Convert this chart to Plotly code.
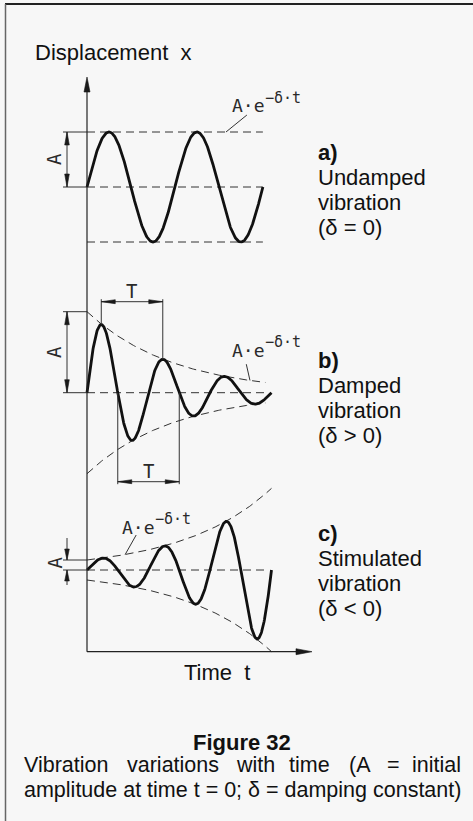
import numpy as np
import plotly.graph_objects as go

# ---------------- page geometry (pixels) ----------------
W, H = 473, 821
ORIGIN_PX = 87.0            # position of t = 0
PX_PER_T = 61.5             # pixels per time unit (one period of b and c)
PX_PER_X = 10.0             # pixels per displacement unit
BASELINE_PX = {"a": 187.0, "b": 392.7, "c": 570.0}
TIME_AXIS_PX = 651.7        # vertical position of the time axis
DISP_AXIS_TOP_PX = 77.0     # tip of the displacement arrow
TIME_AXIS_TIP_PX = 312.0    # tip of the time arrow

# ---------------- vibration parameters ----------------
# a) undamped
AMP_A = 5.5
PERIOD_A = 1.43
CYCLES_A = 2
# b) damped (delta > 0)
AMP_B = 8.1
DELTA_B = 0.713
# c) stimulated (delta < 0)
AMP_C = 1.0
DELTA_C = -0.70
PERIOD_BC = 1.0
T_END_BC = 3.0
T_ENV_B = 2.9
T_ENV_C = 3.0

INK = "#111111"
GUIDE = "#333333"
DASH = "8px,5px"
SANS = "Liberation Sans, Arial, Helvetica, sans-serif"
TECH = "DejaVu Sans Mono, Liberation Mono, monospace"
TECH_INK = "#2a2a2a"

omega = 2 * np.pi / PERIOD_BC

t_a = np.linspace(0, CYCLES_A * PERIOD_A, 400)
x_a = AMP_A * np.sin(2 * np.pi * t_a / PERIOD_A)

t_bc = np.linspace(0, T_END_BC, 500)
x_b = AMP_B * np.exp(-DELTA_B * t_bc) * np.sin(omega * t_bc)
x_c = AMP_C * np.exp(-DELTA_C * t_bc) * np.sin(omega * t_bc)

t_env_b = np.linspace(0, T_ENV_B, 200)
env_b = AMP_B * np.exp(-DELTA_B * t_env_b)
t_env_c = np.linspace(0, T_ENV_C, 200)
env_c = AMP_C * np.exp(-DELTA_C * t_env_c)

fig = go.Figure()


def line_trace(t, x, yaxis, dashed=False, width=2.8, color=INK):
    fig.add_trace(go.Scatter(
        x=t, y=x, yaxis=yaxis, mode="lines", hoverinfo="skip", showlegend=False,
        line=dict(color=GUIDE if dashed else color, width=1 if dashed else width,
                  dash=DASH if dashed else "solid"),
    ))


# a) undamped: guides at +A, 0, -A
t_guide_a = np.array([0, CYCLES_A * PERIOD_A])
for level in (AMP_A, 0, -AMP_A):
    line_trace(t_guide_a, [level, level], "y", dashed=True)
line_trace(t_a, x_a, "y")

# b) damped: envelope +/- A e^(-delta t) and zero line
line_trace([0, T_ENV_B], [0, 0], "y2", dashed=True)
line_trace(t_env_b, env_b, "y2", dashed=True)
line_trace(t_env_b, -env_b, "y2", dashed=True)
line_trace(t_bc, x_b, "y2")

# c) stimulated: growing envelope
line_trace([0, T_ENV_B], [0, 0], "y3", dashed=True)
line_trace(t_env_c, env_c, "y3", dashed=True)
line_trace(t_env_c, -env_c, "y3", dashed=True)
line_trace(t_bc, x_c, "y3")

shapes = []


def seg(x0, y0, x1, y1, yref, color=GUIDE, width=1.0, xref="x"):
    shapes.append(dict(type="line", xref=xref, yref=yref, x0=x0, y0=y0, x1=x1, y1=y1,
                       line=dict(color=color, width=width)))


def head(tip_x, tip_y, ux, uy, yref, length=11.0, half=2.3, xref="x",
         kx=PX_PER_T, ky=PX_PER_X, color="#1a1a1a"):
    """Filled arrowhead; (ux, uy) is the screen direction (x right, y up)."""
    bx = tip_x - ux * length / kx
    by = tip_y - uy * length / ky
    nx, ny = -uy, ux
    p1 = (bx + nx * half / kx, by + ny * half / ky)
    p2 = (bx - nx * half / kx, by - ny * half / ky)
    shapes.append(dict(type="path", xref=xref, yref=yref,
                       path=f"M{tip_x},{tip_y} L{p1[0]},{p1[1]} L{p2[0]},{p2[1]} Z",
                       fillcolor=color, line=dict(color=color, width=0.6)))


# dimension "A" (offset left of the displacement axis)
DIM_T = -20 / PX_PER_T
EXT_T = -24 / PX_PER_T
for yref, amp in (("y", AMP_A), ("y2", AMP_B)):
    seg(EXT_T, amp, 0, amp, yref)
    seg(EXT_T, 0, 0, 0, yref)
    seg(DIM_T, 0, DIM_T, amp, yref)
    head(DIM_T, amp, 0, 1, yref, length=13)
    head(DIM_T, 0, 0, -1, yref, length=13)

# small amplitude in c): arrows from outside
seg(EXT_T, AMP_C, 0, AMP_C, "y3")
seg(EXT_T, 0, 0, 0, "y3")
seg(DIM_T, AMP_C + 2.2, DIM_T, AMP_C, "y3")
seg(DIM_T, 0, DIM_T, -1.5, "y3")
head(DIM_T, AMP_C, 0, -1, "y3", length=11)
head(DIM_T, 0, 0, 1, "y3", length=11)

# dimension "T" in b): between the first two maxima and between two zero crossings
t_peak1 = np.arctan(omega / DELTA_B) / omega
t_peak2 = t_peak1 + PERIOD_BC
T_TOP = 9.1
T_BOTTOM = -8.9
for tp in (t_peak1, t_peak2):
    seg(tp, AMP_B * np.exp(-DELTA_B * tp) * np.sin(omega * tp), tp, T_TOP + 0.25, "y2")
seg(t_peak1, T_TOP, t_peak2, T_TOP, "y2")
head(t_peak1, T_TOP, -1, 0, "y2", length=14, half=2.0)
head(t_peak2, T_TOP, 1, 0, "y2", length=14, half=2.0)

t_zero1 = 0.5 * PERIOD_BC
t_zero2 = 1.5 * PERIOD_BC
for tz in (t_zero1, t_zero2):
    seg(tz, 0, tz, T_BOTTOM - 0.25, "y2")
seg(t_zero1, T_BOTTOM, t_zero2, T_BOTTOM, "y2")
head(t_zero1, T_BOTTOM, -1, 0, "y2", length=14, half=2.0)
head(t_zero2, T_BOTTOM, 1, 0, "y2", length=14, half=2.0)

# leader lines for the envelope formula
seg(2.60, AMP_A + 1.7, 2.26, AMP_A, "y")
t_lb = 2.65
seg(2.59, 2.85, t_lb, AMP_B * np.exp(-DELTA_B * t_lb), "y2")
t_lc = 0.62
seg(0.80, 3.5, t_lc, AMP_C * np.exp(-DELTA_C * t_lc), "y3")

# coordinate axes (in panel c units)
v_time_axis = (BASELINE_PX["c"] - TIME_AXIS_PX) / PX_PER_X
v_disp_top = (BASELINE_PX["c"] - DISP_AXIS_TOP_PX) / PX_PER_X
t_time_tip = (TIME_AXIS_TIP_PX - ORIGIN_PX) / PX_PER_T
seg(0, v_time_axis, 0, v_disp_top - 1.0, "y3", color="#222222", width=1.2)
seg(0, v_time_axis, t_time_tip - 0.2, v_time_axis, "y3", color="#222222", width=1.2)
head(0, v_disp_top, 0, 1, "y3", length=15, half=3.0)
head(t_time_tip, v_time_axis, 1, 0, "y3", length=16, half=3.0)

# page frame
shapes.append(dict(type="line", xref="paper", yref="paper", x0=5 / W, x1=1, y0=1 - 4 / H, y1=1 - 4 / H,
                   line=dict(color="#222222", width=1.8)))
shapes.append(dict(type="line", xref="paper", yref="paper", x0=5.5 / W, x1=5.5 / W, y0=0, y1=1 - 4 / H,
                   line=dict(color="#666666", width=1.5)))

annotations = []


def text(s, px, baseline, size=22, bold=False, anchor="left", font=SANS, angle=0, color=INK):
    annotations.append(dict(
        text=f"<b>{s}</b>" if bold else s, xref="paper", yref="paper",
        x=px / W, y=1 - (baseline - 0.34 * size) / H, xanchor=anchor, yanchor="middle",
        showarrow=False, textangle=angle, font=dict(family=font, size=size, color=color),
    ))


text("Displacement\u00a0\u00a0x", 33, 60)
text("Time\u00a0\u00a0t", 217, 680, anchor="center")

# panel labels
LBL_X = 316
for lines, base in ((["a)", "Undamped", "vibration", "(\u03b4 = 0)"], 159.5),
                    (["b)", "Damped", "vibration", "(\u03b4 > 0)"], 368.0),
                    (["c)", "Stimulated", "vibration", "(\u03b4 < 0)"], 540.5)):
    for i, s in enumerate(lines):
        text(s, LBL_X, base + 25 * i, bold=(i == 0))

# envelope formula labels
for lx, base in ((230, 111.7), (230, 356.5), (120, 533.5)):
    text("A\u00b7e", lx, base, size=18, font=TECH, color=TECH_INK)
    text("\u2212\u03b4\u00b7t", lx + 33, base - 9.0, size=15, font=TECH, color=TECH_INK)

# rotated amplitude labels
for cy in (159, 352, 562.5):
    annotations.append(dict(text="A", xref="paper", yref="paper", x=54 / W, y=1 - cy / H,
                            xanchor="center", yanchor="middle", showarrow=False, textangle=-90,
                            font=dict(family=TECH, size=19, color=TECH_INK)))
# period labels
for cx, cy in ((131.5, 291), (148.5, 471)):
    annotations.append(dict(text="T", xref="paper", yref="paper", x=cx / W, y=1 - cy / H,
                            xanchor="center", yanchor="middle", showarrow=False,
                            font=dict(family=TECH, size=19, color=TECH_INK)))

# caption (first line justified word by word)
text("Figure 32", 242, 750, bold=True, anchor="center")
caption_words = ["Vibration", "variations", "with", "time", "(A", "="]
caption_left = [21.7, 125.0, 234.0, 287.0, 346.5, 384.5]
for w, xl in zip(caption_words, caption_left):
    text(w, xl, 772.3, size=21.5)
text("initial", 463.0, 772.3, size=21.5, anchor="right")
text("amplitude at time t = 0; \u03b4 = damping constant)", 21.7, 797.3, size=21.5)

span = H / PX_PER_X


def yrange(panel):
    hi = BASELINE_PX[panel] / PX_PER_X
    return [hi - span, hi]


hidden = dict(visible=False, fixedrange=True, showgrid=False, zeroline=False)
fig.update_layout(
    width=W, height=H, margin=dict(l=0, r=0, t=0, b=0),
    paper_bgcolor="#f7f7f7", plot_bgcolor="#f7f7f7",
    xaxis=dict(range=[-ORIGIN_PX / PX_PER_T, (W - ORIGIN_PX) / PX_PER_T], domain=[0, 1], **hidden),
    yaxis=dict(range=yrange("a"), domain=[0, 1], **hidden),
    yaxis2=dict(range=yrange("b"), overlaying="y", **hidden),
    yaxis3=dict(range=yrange("c"), overlaying="y", **hidden),
    shapes=shapes, annotations=annotations, showlegend=False,
)

fig.write_html("out.html")
